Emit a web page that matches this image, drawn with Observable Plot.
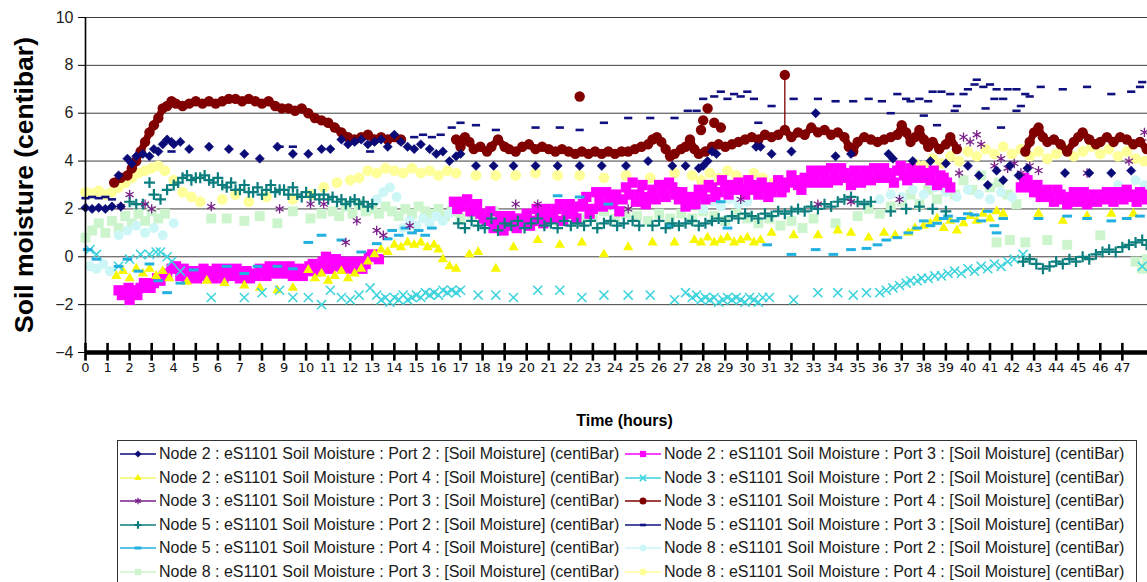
<!DOCTYPE html>
<html><head><meta charset="utf-8">
<script src="https://cdn.jsdelivr.net/npm/d3@7"></script>
<script src="https://cdn.jsdelivr.net/npm/@observablehq/plot@0.6"></script>
<style>
body{margin:0;background:#fff;width:1147px;height:582px;overflow:hidden;position:relative;font-family:"Liberation Sans",Arial,sans-serif;}
#chart{position:absolute;left:0;top:0;}
#legend{position:absolute;left:117px;top:440px;width:1020px;height:170px;border:1px solid #333;box-sizing:border-box;background:#fff;}
.item{position:absolute;height:20px;display:flex;align-items:center;font-size:16px;color:#1a1a1a;white-space:nowrap;}
.item svg{margin-right:2px;}
</style></head><body>
<div id="chart"></div><div id="legend"></div>
<script>
// ---------- axis ticks ----------
const xTicks = [0,1,2,3,4,5,6,7,8,9,10,11,12,13,14,15,16,17,18,19,20,21,22,23,24,25,26,27,28,29,30,31,32,33,34,35,36,37,38,39,40,41,42,43,44,45,46,47];
const yTicks = [-4,-2,0,2,4,6,8,10];

// ---------- series names ----------
const names = [
 "Node 2 : eS1101 Soil Moisture : Port 2 : [Soil Moisture] (centiBar)",
 "Node 2 : eS1101 Soil Moisture : Port 3 : [Soil Moisture] (centiBar)",
 "Node 2 : eS1101 Soil Moisture : Port 4 : [Soil Moisture] (centiBar)",
 "Node 3 : eS1101 Soil Moisture : Port 2 : [Soil Moisture] (centiBar)",
 "Node 3 : eS1101 Soil Moisture : Port 3 : [Soil Moisture] (centiBar)",
 "Node 3 : eS1101 Soil Moisture : Port 4 : [Soil Moisture] (centiBar)",
 "Node 5 : eS1101 Soil Moisture : Port 2 : [Soil Moisture] (centiBar)",
 "Node 5 : eS1101 Soil Moisture : Port 3 : [Soil Moisture] (centiBar)",
 "Node 5 : eS1101 Soil Moisture : Port 4 : [Soil Moisture] (centiBar)",
 "Node 8 : eS1101 Soil Moisture : Port 2 : [Soil Moisture] (centiBar)",
 "Node 8 : eS1101 Soil Moisture : Port 3 : [Soil Moisture] (centiBar)",
 "Node 8 : eS1101 Soil Moisture : Port 4 : [Soil Moisture] (centiBar)"
];

// ---------- data: [hour, centibar] ----------
const n2p2 = [[0.0,2.05],[0.3,2.0],[0.6,2.05],[0.9,2.0],[1.2,2.1],[1.5,3.4],[1.6,2.1],[1.9,4.1],[2.1,3.9],[2.3,4.2],[2.6,4.3],[2.9,4.2],[3.1,4.5],[3.3,4.4],[3.5,4.7],[3.7,4.9],[3.9,4.8],[4.0,4.7],[4.3,4.8],[4.7,4.5],[5.6,4.6],[6.5,4.5],[7.2,4.3],[7.9,4.1],[8.7,4.6],[9.4,4.3],[10.1,4.3],[10.7,4.5],[11.1,4.5],[11.6,4.9],[11.9,4.7],[12.2,4.8],[12.5,4.9],[12.8,4.7],[13.1,4.8],[13.4,4.9],[13.7,4.6],[14.0,5.1],[14.3,4.8],[14.6,4.6],[14.9,4.5],[15.2,4.7],[15.6,4.5],[15.9,4.3],[16.2,4.4],[16.5,4.0],[16.8,4.2],[17.0,4.3],[17.7,3.8],[18.5,3.8],[19.4,3.8],[20.4,3.8],[21.4,3.8],[22.4,3.8],[23.4,3.8],[24.5,3.8],[25.5,4.0],[26.6,3.8],[27.2,3.8],[27.8,3.7],[28.0,3.8],[28.2,4.0],[28.4,4.4],[28.6,4.3],[30.4,4.6],[30.6,4.6],[31.1,4.3],[32.0,4.4],[33.1,6.0],[34.0,4.2],[34.7,4.3],[36.4,4.3],[36.6,4.1],[37.5,4.0],[38.3,4.0],[39.0,3.9],[40.0,3.8],[40.5,3.4],[40.9,3.0],[41.3,3.6],[41.6,3.2],[41.9,3.8],[42.3,3.4],[42.7,3.7],[44.4,3.5],[45.5,3.5],[46.5,3.5],[47.4,3.6]];

const n2p3 = [[1.5,-1.4],[1.8,-1.5],[2.0,-1.8],[2.2,-1.4],[2.5,-1.3],[2.8,-1.2],[3.1,-1.1],[3.4,-1.0],[3.7,-0.7],[3.9,-0.5],[4.1,-0.4],[4.3,-0.8],[4.6,-0.9],[4.9,-0.6],[5.2,-0.8],[5.5,-0.6],[5.8,-0.9],[6.1,-0.7],[6.4,-0.5],[6.7,-0.8],[7.0,-0.9],[7.3,-0.6],[7.6,-0.7],[7.9,-0.5],[8.2,-0.8],[8.5,-0.6],[8.8,-0.4],[9.1,-0.7],[9.4,-0.8],[9.7,-0.5],[10.0,-0.6],[10.3,-0.3],[10.6,-0.5],[10.9,0.0],[11.2,-0.4],[11.5,-0.2],[11.8,-0.4],[12.1,-0.5],[12.4,-0.2],[12.7,-0.3],[13.0,0.1],[13.3,-0.1],
 [1.65,-1.6],[1.95,-1.3],[2.35,-1.6],[2.65,-1.1],[2.95,-1.3],[3.25,-0.9],[3.55,-0.8],[4.45,-0.5],[4.75,-0.6],[5.05,-0.9],[5.35,-0.5],[5.65,-0.7],[5.95,-0.5],[6.25,-0.9],[6.55,-0.7],[6.85,-0.5],[7.15,-0.7],[7.45,-0.9],[7.75,-0.8],[8.05,-0.6],[8.35,-0.4],[8.65,-0.7],[8.95,-0.6],[9.25,-0.4],[9.55,-0.6],[9.85,-0.8],[10.15,-0.4],[10.45,-0.6],[10.75,-0.2],[11.05,-0.5],[11.35,-0.1],[11.65,-0.5],[11.95,-0.2],[12.25,-0.3],[12.55,-0.5],[12.85,0.0],
 [16.7,2.3],[17.0,2.1],[17.3,2.4],[17.6,2.0],[17.9,1.8],[18.2,1.5],[18.5,1.2],[18.8,1.7],[19.1,1.3],[19.4,1.6],[19.7,1.4],[20.0,1.8],[20.3,1.5],[20.6,1.7],[20.9,2.0],[21.2,1.6],[21.5,2.2],[21.8,1.8],[22.1,1.9],[22.4,2.1],[22.7,2.5],[23.0,2.0],[23.3,2.4],[23.6,2.7],[23.9,2.2],[24.2,1.9],[24.5,2.9],[24.8,3.1],[25.1,2.6],[25.4,2.2],[25.7,2.8],[26.0,3.0],[26.3,2.5],[26.6,2.9],[26.9,2.4],[27.2,2.1],[27.5,2.5],[27.8,2.8],[28.1,2.4],[28.4,2.9],[28.7,2.7],[29.0,3.0],[29.3,2.8],[29.6,3.1],[29.9,2.6],[30.2,3.0],[30.5,2.6],[30.8,2.9],[31.1,2.7],[31.4,3.2],[31.7,2.9],[32.0,3.4],[32.3,3.0],[32.6,3.3],[32.9,3.6],[33.2,3.1],[33.5,3.4],[33.8,3.7],[34.1,3.2],[34.4,3.5],[34.7,3.0],[35.0,3.3],[35.3,3.6],[35.6,3.2],[35.9,3.5],[36.2,3.7],[36.5,3.3],[36.8,3.6],[37.1,3.4],[37.4,3.7],[37.7,3.3],[38.0,3.5],[38.3,3.2],[38.6,3.0],[38.9,3.3],[39.2,2.9],
 [16.85,2.0],[17.15,2.3],[17.45,1.9],[17.75,2.2],[18.05,1.6],[18.35,1.9],[18.65,1.4],[18.95,1.1],[19.25,1.7],[19.55,1.2],[19.85,1.6],[20.15,1.3],[20.45,2.0],[20.75,1.4],[21.05,1.8],[21.35,2.0],[21.65,1.5],[21.95,2.2],[22.25,1.6],[22.55,2.2],[22.85,1.8],[23.15,2.7],[23.45,2.1],[23.75,2.5],[24.05,2.6],[24.35,2.4],[24.65,2.6],[24.95,2.3],[25.25,3.0],[25.55,2.5],[25.85,2.4],[26.15,2.8],[26.45,3.1],[26.75,2.6],[27.05,2.7],[27.35,2.3],[27.65,2.2],[27.95,2.6],[28.25,3.0],[28.55,2.5],[28.85,3.2],[29.15,2.6],[29.45,3.0],[29.75,2.8],[30.05,3.2],[30.35,2.8],[30.65,3.1],[30.95,2.5],[31.25,2.9],[31.55,2.7],[31.85,3.1],[32.15,3.2],[32.45,2.8],[32.75,3.1],[33.05,3.4],[33.35,3.6],[33.65,3.1],[33.95,3.4],[34.25,3.7],[34.55,3.3],[34.85,3.6],[35.15,3.1],[35.45,3.4],[35.75,3.7],[36.05,3.3],[36.35,3.5],[36.65,3.1],[36.95,3.8],[37.25,3.2],[37.55,3.5],[37.85,3.6],[38.15,3.3],[38.45,3.6],[38.75,3.4],[39.05,3.1],
 [42.4,2.9],[42.7,3.2],[43.0,2.7],[43.3,2.5],[43.6,2.8],[43.9,2.3],[44.2,2.6],[44.5,2.2],[44.8,2.7],[45.1,2.5],[45.4,2.2],[45.7,2.6],[46.0,2.4],[46.3,2.7],[46.6,2.3],[46.9,2.6],[47.2,2.8],[47.5,2.5],[47.8,2.7],[48.1,2.4],
 [42.55,3.3],[42.85,2.9],[43.15,3.0],[43.45,2.6],[43.75,2.5],[44.05,2.8],[44.35,2.4],[44.65,2.5],[44.95,2.3],[45.25,2.7],[45.55,2.4],[45.85,2.3],[46.15,2.6],[46.45,2.4],[46.75,2.7],[47.05,2.4],[47.35,2.6],[47.65,2.3],[47.95,2.6]];

const n2p4 = [[1.4,-0.8],[1.7,-0.6],[2.0,-0.9],[2.3,-0.5],[2.6,-0.7],[2.9,-0.5],[3.2,-0.8],[3.5,-0.6],[3.8,-0.9],[4.6,-1.05],[5.5,-1.0],[6.3,-1.1],[7.2,-1.2],[7.9,-1.3],[8.7,-1.4],[9.4,-1.3],[10.1,-0.55],[10.4,-0.9],[10.7,-0.7],[11.0,-1.0],[11.3,-0.8],[11.6,-0.6],[11.9,-0.9],[12.2,-0.7],[12.5,-0.5],[12.8,-0.2],[13.1,0.1],[13.4,0.3],[13.7,0.2],[14.0,0.5],[14.3,0.4],[14.6,0.6],[14.9,0.5],[15.2,0.6],[15.5,0.4],[15.8,0.5],[16.0,0.3],[16.2,-0.1],[16.5,-0.4],[16.8,-0.5],[17.4,0.1],[17.8,0.2],[18.6,-0.5],[19.4,0.4],[20.5,0.7],[21.5,0.5],[22.5,0.6],[23.5,0.1],[24.6,0.4],[25.7,0.6],[26.7,0.6],[27.6,0.7],[27.9,0.6],[28.2,0.8],[28.5,0.6],[28.8,0.7],[29.1,0.8],[29.4,0.6],[29.7,0.7],[30.0,0.8],[30.3,0.6],[30.6,0.7],[31.1,1.0],[32.1,0.9],[33.2,0.9],[34.1,1.1],[34.7,1.0],[35.5,0.8],[36.2,1.0],[36.7,0.9],[37.3,1.0],[37.6,1.2],[38.0,1.3],[38.3,1.4],[38.6,1.6],[38.9,1.2],[39.2,1.5],[39.5,1.1],[39.8,1.4],[40.1,1.7],[40.4,1.5],[40.7,1.8],[41.0,1.6],[41.3,1.9],[41.6,1.8],[43.2,1.8],[44.3,1.5],[45.4,1.7],[46.5,1.8],[47.5,1.8]];

const n3p2 = [[0.2,0.3],[0.5,0.1],[1.5,-0.4],[2.0,-0.1],[2.5,0.1],[2.9,0.1],[3.2,0.2],[3.4,0.2],[3.7,0.0],[3.9,-0.2],[4.3,-0.6],[5.7,-1.7],[7.2,-1.7],[8.0,-1.5],[8.8,-1.4],[9.4,-1.7],[10.1,-1.7],[10.7,-2.0],[11.1,-1.4],[11.6,-1.7],[12.0,-1.8],[12.4,-1.6],[12.9,-1.3],[13.2,-1.6],[13.4,-1.8],[13.6,-1.7],[13.8,-1.9],[14.0,-1.7],[14.2,-1.8],[14.4,-1.6],[14.6,-1.8],[14.8,-1.7],[15.0,-1.6],[15.2,-1.7],[15.4,-1.5],[15.6,-1.6],[15.8,-1.5],[16.0,-1.6],[16.2,-1.4],[16.4,-1.5],[16.6,-1.4],[16.8,-1.5],[17.0,-1.4],[17.8,-1.6],[18.6,-1.6],[19.4,-1.7],[20.5,-1.4],[21.5,-1.4],[22.5,-1.7],[23.5,-1.6],[24.6,-1.6],[25.6,-1.6],[26.7,-1.8],[27.2,-1.5],[27.5,-1.7],[27.7,-1.6],[27.9,-1.8],[28.1,-1.7],[28.3,-1.8],[28.5,-1.7],[28.7,-1.9],[28.9,-1.8],[29.1,-1.7],[29.3,-1.8],[29.5,-1.7],[29.7,-1.8],[29.9,-1.9],[30.1,-1.7],[30.3,-1.8],[30.5,-1.9],[30.7,-1.7],[31.0,-1.7],[32.1,-1.8],[33.2,-1.5],[34.1,-1.5],[34.8,-1.6],[35.4,-1.5],[36.0,-1.5],[36.3,-1.4],[36.6,-1.3],[36.9,-1.2],[37.2,-1.1],[37.4,-1.0],[37.7,-1.0],[37.9,-0.9],[38.2,-0.9],[38.5,-0.8],[38.8,-0.8],[39.1,-0.7],[39.4,-0.6],[39.7,-0.7],[40.0,-0.5],[40.3,-0.6],[40.6,-0.4],[40.9,-0.5],[41.2,-0.3],[41.5,-0.4],[41.8,-0.2],[42.1,-0.1],[42.5,0.1],[47.9,-0.4]];

const n3p3 = [[1.6,2.1],[2.0,2.6],[2.7,2.2],[3.0,2.0],[5.7,2.1],[8.8,2.0],[10.2,2.2],[10.8,2.2],[11.8,0.6],[12.3,1.5],[13.2,1.1],[13.5,0.9],[14.7,1.3],[19.5,2.2],[20.5,2.2],[24.6,2.0],[29.7,2.4],[33.2,2.2],[34.7,2.3],[36.9,2.4],[39.5,4.6],[39.8,5.0],[40.1,4.8],[40.4,5.1],[40.6,4.7],[39.6,3.5],[41.2,3.8],[41.5,4.1],[41.8,3.7],[42.1,3.9],[42.4,3.5],[42.8,3.8],[43.2,3.6],[45.4,3.5],[47.3,4.0],[47.9,4.8],[48.0,5.2]];

const n3p4 = [[1.3,3.1],[1.6,3.3],[1.9,3.4],[2.1,3.7],[2.3,4.0],[2.5,4.4],[2.7,4.8],[2.9,5.2],[3.1,5.5],[3.3,5.8],[3.5,6.2],[3.7,6.3],[3.9,6.5],[4.1,6.4],[4.4,6.3],[4.7,6.4],[5.0,6.5],[5.3,6.4],[5.6,6.5],[5.9,6.4],[6.2,6.5],[6.5,6.6],[6.8,6.6],[7.1,6.5],[7.4,6.6],[7.7,6.5],[8.0,6.4],[8.3,6.5],[8.6,6.3],[8.9,6.2],[9.2,6.2],[9.5,6.1],[9.8,6.2],[10.1,6.0],[10.4,5.8],[10.7,5.7],[11.0,5.6],[11.3,5.4],[11.6,5.2],[11.9,5.0],[12.2,4.9],[12.5,5.0],[12.8,5.1],[13.1,4.9],[13.4,5.0],[13.7,4.9],[14.0,5.0],[14.3,4.9],
 [16.8,4.9],[17.0,4.6],[17.2,5.0],[17.4,4.8],[17.6,4.5],[17.9,4.6],[18.2,4.4],[18.4,4.6],[18.7,4.9],[19.0,4.6],[19.2,4.5],[19.5,4.4],[19.8,4.6],[20.1,4.7],[20.4,4.5],[20.7,4.6],[21.0,4.5],[21.3,4.4],[21.6,4.5],[21.9,4.4],[22.2,4.3],[22.5,4.4],[22.8,4.3],[23.1,4.4],[23.4,4.3],[23.7,4.4],[24.0,4.3],[24.3,4.4],[24.6,4.4],[24.9,4.5],[25.2,4.6],[25.5,4.7],[25.7,4.9],[25.9,5.0],[26.1,4.8],[26.3,4.5],[26.5,4.2],[26.7,4.3],[27.0,4.5],[27.2,4.6],[27.4,4.9],[27.6,4.5],[27.8,4.3],[28.1,4.4],[28.4,4.6],[28.7,4.7],[29.0,4.6],[29.3,4.7],[29.6,4.8],[29.9,4.9],[30.2,5.0],[30.5,4.9],[30.8,5.1],[31.1,5.0],[31.4,5.1],[31.7,5.3],[32.0,5.0],[32.3,5.2],[32.6,5.1],[32.9,5.4],[33.2,5.2],[33.5,5.3],[33.8,5.1],[34.1,5.2],[34.4,5.0],[34.6,4.6],[34.8,4.4],[35.0,4.8],[35.3,5.0],[35.6,4.9],[35.9,4.8],[36.2,4.9],[36.5,5.0],[36.8,5.1],[37.0,5.5],[37.2,5.2],[37.4,4.8],[37.6,5.0],[37.8,5.3],[38.0,4.9],[38.2,4.6],[38.4,4.8],[38.7,4.5],[39.0,4.7],[39.2,5.0],[39.5,4.5],
 [42.6,4.4],[42.8,4.8],[43.0,5.2],[43.2,5.4],[43.4,5.0],[43.6,4.8],[43.9,4.9],[44.2,4.7],[44.5,4.4],[44.8,4.8],[45.0,5.0],[45.2,5.2],[45.5,4.9],[45.8,4.7],[46.0,4.8],[46.3,5.0],[46.6,4.8],[46.9,5.0],[47.2,4.9],[47.5,4.7],[47.8,4.8],[48.1,4.5]];
const n3p4Outliers = [[22.4,6.7],[27.9,5.3],[28.0,5.7],[28.2,6.2],[28.5,5.6],[28.8,5.4],[31.7,7.6]];
const n3p4Spike = [[31.7,5.3],[31.7,7.6]];

const n5p2 = [[2.0,2.3],[2.3,2.2],[2.6,2.2],[2.9,3.1],[3.1,2.6],[3.4,2.4],[3.7,2.8],[4.0,3.0],[4.2,3.1],[4.4,3.3],[4.6,3.4],[4.8,3.2],[5.0,3.3],[5.2,3.3],[5.4,3.4],[5.6,3.2],[5.8,3.1],[6.0,3.3],[6.2,3.0],[6.4,2.9],[6.6,3.1],[6.8,2.8],[7.0,2.8],[7.2,3.0],[7.4,2.7],[7.6,2.7],[7.8,2.9],[8.0,2.6],[8.2,2.8],[8.4,3.0],[8.6,2.7],[8.8,2.8],[9.0,2.8],[9.2,2.6],[9.4,2.9],[9.6,2.6],[9.8,2.5],[10.0,2.7],[10.2,2.5],[10.4,2.6],[10.6,2.4],[10.8,2.6],[11.0,2.4],[11.2,2.5],[11.4,2.3],[11.6,2.4],[11.8,2.2],[12.0,2.3],[12.2,2.4],[12.4,2.2],[12.6,2.3],[12.8,2.1],[13.0,2.2],
 [16.9,1.4],[17.2,1.2],[17.5,1.5],[17.8,1.3],[18.1,1.2],[18.4,1.6],[18.7,1.1],[19.0,1.4],[19.3,1.3],[19.6,1.5],[19.9,1.2],[20.2,1.4],[20.5,1.6],[20.8,1.3],[21.1,1.4],[21.4,1.2],[21.7,1.5],[22.0,1.3],[22.3,1.4],[22.6,1.3],[22.9,1.5],[23.2,1.2],[23.5,1.4],[23.8,1.5],[24.1,1.3],[24.4,1.4],[24.8,1.5],[25.1,1.3],[25.7,1.3],[26.0,1.5],[26.3,1.2],[26.6,1.4],[26.9,1.3],[27.2,1.4],[27.5,1.5],[27.8,1.3],[28.1,1.4],[28.4,1.5],[28.7,1.6],[29.0,1.5],[29.3,1.7],[29.6,1.6],[29.9,1.8],[30.2,1.7],[30.5,1.6],[30.8,1.8],[31.1,1.7],[31.4,1.9],[31.7,1.8],[32.0,1.9],[32.3,2.0],[32.6,1.9],[32.9,2.1],[33.2,2.0],[33.5,2.2],[33.8,2.1],[34.1,2.3],[34.4,2.4],[34.7,2.5],[35.0,2.3],[35.3,2.2],[35.6,2.3],[36.5,1.9],[37.2,2.0],[37.8,2.1],[38.4,2.0],[39.0,1.9],
 [42.5,-0.2],[42.8,-0.1],[43.1,-0.3],[43.4,-0.5],[43.7,-0.4],[44.0,-0.2],[44.3,-0.3],[44.6,-0.1],[44.9,-0.2],[45.2,0.0],[45.5,-0.1],[45.8,0.1],[46.1,0.2],[46.4,0.3],[46.7,0.2],[47.0,0.4],[47.3,0.5],[47.6,0.6],[47.9,0.7],[48.1,0.5]];

const n5p3 = [[0.0,2.45],[0.3,2.5],[0.6,2.45],[0.9,2.5],[1.2,2.4],[3.9,4.4],[8.8,4.6],[9.4,4.6],[12.9,4.4],[14.9,5.0],[15.3,5.1],[15.7,5.0],[16.1,5.1],[16.6,5.4],[17.0,5.6],[17.7,5.5],[18.6,5.3],[20.4,5.4],[21.5,5.4],[22.4,5.3],[23.5,5.6],[24.6,5.8],[25.6,5.8],[26.7,5.8],[27.3,6.1],[27.7,6.1],[28.0,6.6],[28.5,6.7],[28.8,6.9],[29.1,6.6],[29.4,6.8],[29.7,6.7],[30.0,6.9],[30.3,6.6],[30.5,5.6],[31.1,6.3],[32.1,6.6],[33.2,6.6],[34.0,6.5],[34.8,6.5],[35.5,6.6],[36.1,6.5],[36.5,6.0],[36.8,6.8],[37.2,6.6],[37.4,6.5],[37.8,6.6],[38.0,5.9],[38.2,6.5],[38.4,6.9],[38.6,5.5],[38.8,6.9],[39.2,6.8],[39.4,6.1],[39.5,6.3],[39.8,6.8],[40.0,7.0],[40.3,7.2],[40.4,7.4],[40.7,7.1],[40.8,6.2],[41.0,7.2],[41.2,6.6],[41.3,7.0],[41.5,5.4],[41.6,6.6],[41.8,7.0],[42.2,7.0],[42.2,6.1],[42.4,6.3],[42.6,6.8],[42.8,6.7],[43.3,7.1],[44.3,7.0],[45.4,7.1],[46.5,6.8],[47.4,6.9],[47.8,7.1],[47.9,7.3]];

const n5p4 = [[0.1,0.3],[0.5,-0.1],[1.5,-0.4],[1.9,-0.1],[2.4,-0.6],[2.9,-0.3],[3.3,-1.0],[3.7,-1.5],[4.3,-1.1],[4.9,-0.55],[6.4,-0.4],[7.2,-0.7],[7.8,-0.4],[8.7,-0.4],[9.4,-0.5],[10.1,0.6],[10.7,0.9],[11.6,0.7],[12.5,0.2],[13.2,0.55],[13.7,0.75],[13.9,1.1],[14.2,0.9],[14.5,1.2],[14.8,1.0],[15.1,1.1],[15.4,0.9],[15.7,1.2],[21.4,2.55],[22.4,2.5],[23.7,2.2],[26.5,1.3],[28.8,2.3],[29.1,1.2],[30.9,0.5],[32.0,0.1],[33.1,0.3],[33.9,0.1],[34.7,0.3],[35.4,0.35],[35.9,0.5],[36.3,0.7],[36.8,0.8],[37.3,1.0],[37.7,1.2],[38.0,1.5],[38.3,1.3],[38.6,1.4],[38.9,1.6],[39.1,1.7],[39.4,1.5],[39.7,1.6],[40.0,1.8],[40.3,1.75],[40.6,1.5],[40.9,1.9],[41.2,1.3],[41.3,1.0],[41.6,1.6],[43.2,1.6],[44.5,1.7],[45.4,1.6],[46.5,1.5],[47.2,1.6],[47.8,1.7]];

const n8p2 = [[0.2,-0.4],[0.5,-0.5],[0.8,-0.3],[1.1,-0.6],[1.5,0.9],[1.9,1.1],[2.3,1.3],[2.7,1.0],[3.1,1.2],[3.5,0.9],[4.0,1.4],[13.2,2.4],[13.5,2.7],[13.8,2.9],[14.1,2.5],[14.4,1.2],[14.7,1.5],[15.0,1.3],[15.3,1.6],[15.6,1.4],[15.9,1.7],[16.2,1.5],[16.5,1.8],[22.0,2.0],[24.0,2.1],[27.6,2.2],[28.0,2.0],[28.4,2.3],[28.8,2.1],[29.2,2.4],[29.6,2.2],[30.0,2.3],[36.0,2.4],[36.5,2.6],[37.0,2.5],[37.5,2.8],[38.0,2.6],[38.5,2.9],[39.0,2.7],[39.5,2.5],[40.0,2.8],[40.5,2.6],[41.0,2.4],[41.5,2.7],[42.0,2.5],[46.8,3.0],[47.2,2.8],[47.6,3.2],[48.0,3.0]];

const n8p3 = [[0.0,0.8],[0.3,1.1],[0.6,1.4],[0.9,1.0],[1.2,1.5],[1.5,1.2],[1.8,1.7],[2.1,1.4],[2.4,1.8],[2.7,1.5],[3.0,1.9],[3.3,1.6],[3.6,1.8],[5.7,1.6],[6.4,1.6],[7.2,1.5],[7.9,1.7],[8.7,1.4],[9.4,1.9],[10.2,1.6],[10.7,1.8],[11.2,1.9],[11.5,1.7],[11.8,2.1],[12.1,1.8],[12.4,2.2],[12.7,1.9],[13.0,2.0],[13.3,1.8],[13.6,2.1],[13.9,1.9],[14.2,1.7],[14.5,2.0],[14.8,1.8],[15.1,2.1],[15.4,1.9],[15.7,1.8],[16.0,2.0],[16.3,1.7],[16.6,1.9],[17.0,1.6],[17.5,1.8],[18.0,1.6],[18.5,1.9],[19.0,1.7],[19.5,1.5],[20.0,1.8],[20.5,1.6],[21.0,1.7],[21.5,1.5],[22.0,1.8],[22.5,1.6],[23.0,1.7],[23.5,1.9],[24.0,1.6],[24.5,1.8],[25.0,1.7],[25.5,1.5],[26.0,1.8],[26.5,1.6],[27.0,1.8],[27.5,1.6],[28.0,1.9],[28.5,1.7],[29.0,1.5],[29.5,1.8],[30.0,1.6],[30.5,1.4],[31.0,1.6],[31.5,1.3],[32.0,1.5],[32.5,1.2],[33.0,1.6],[34.0,1.4],[35.0,1.7],[35.5,2.0],[36.0,1.8],[36.5,2.1],[37.0,2.3],[37.4,2.6],[37.8,2.2],[38.2,2.8],[38.6,2.4],[39.0,3.0],[39.4,2.6],[39.8,3.2],[40.2,2.8],[40.6,3.4],[41.0,2.9],[41.4,3.1],[41.8,2.6],[42.2,2.2],[41.3,0.6],[41.9,0.7],[42.6,0.6],[43.6,0.7],[44.5,0.5],[46.0,0.9],[47.6,-0.2],[47.9,-0.5],[48.1,-0.1]];

const n8p4 = [[0.0,2.7],[0.3,2.65],[0.6,2.75],[0.9,2.6],[1.2,2.7],[1.5,2.9],[1.8,3.1],[2.1,3.3],[2.4,3.5],[2.7,3.6],[3.0,3.7],[3.3,3.8],[3.6,3.6],[4.0,3.2],[4.4,2.7],[4.8,2.5],[5.2,2.3],[6.2,2.4],[6.8,2.6],[7.4,2.3],[8.2,2.5],[9.4,2.4],[10.2,2.6],[10.8,2.9],[11.4,3.1],[12.0,3.2],[12.4,3.3],[12.8,3.6],[13.2,3.5],[13.6,3.7],[14.0,3.6],[14.4,3.5],[14.8,3.7],[15.2,3.5],[15.6,3.6],[16.0,3.4],[16.4,3.6],[16.8,3.5],[17.7,3.4],[18.6,3.4],[19.5,3.4],[20.4,3.5],[21.4,3.4],[22.4,3.4],[23.5,3.3],[24.5,3.4],[25.6,3.3],[26.7,3.5],[27.5,3.4],[27.9,3.2],[28.3,3.5],[28.7,3.3],[29.1,3.6],[29.5,3.4],[29.9,3.2],[30.3,3.5],[30.7,3.3],[31.2,3.1],[32.0,3.4],[33.0,3.2],[34.0,3.5],[35.0,3.3],[36.0,3.6],[37.0,3.7],[37.6,3.9],[38.0,3.8],[38.4,4.1],[38.8,3.9],[39.2,4.2],[39.6,4.0],[40.0,4.4],[40.4,4.2],[40.8,4.5],[41.2,4.3],[41.6,4.6],[42.0,4.3],[42.4,4.5],[42.8,4.2],[43.2,4.4],[43.6,4.1],[44.0,4.3],[44.4,4.5],[44.8,4.2],[45.2,4.4],[45.6,4.6],[46.0,4.3],[46.4,4.5],[46.8,4.2],[47.2,4.4],[47.6,4.1],[48.0,4.0]];

// ---------- styles ----------
const dash = {draw(ctx, size){ const w = Math.sqrt(size) * 0.7; ctx.moveTo(-w, 0); ctx.lineTo(w, 0); }};
const C = {navy:"#0b0b78", magenta:"#ff00ff", yellow:"#f7f700", cyan:"#3cd3dc", purple:"#7a1f8a", red:"#800000", teal:"#0b7d7d", navy2:"#101080", sky:"#22b0e0", pcyan:"#cdf7f7", pgreen:"#cdf5cd", pyellow:"#ffff9a"};

const style = [
 {data:n2p2, symbol:"diamond2", r:4.2, fill:C.navy, stroke:C.navy, sw:0.5, line:C.navy},
 {data:n2p3, symbol:"square", r:5.8, fill:C.magenta, stroke:"none", sw:0, line:C.magenta},
 {data:n2p4, symbol:"triangle", r:3.8, fill:C.yellow, stroke:"none", sw:0, line:"#f5f56a"},
 {data:n3p2, symbol:"times", r:4.2, fill:"none", stroke:C.cyan, sw:1.5, line:C.cyan},
 {data:n3p3, symbol:"asterisk", r:4.4, fill:"none", stroke:C.purple, sw:1.3, line:C.purple},
 {data:n3p4.concat(n3p4Outliers), symbol:"circle", r:5.2, fill:C.red, stroke:"none", sw:0, line:C.red},
 {data:n5p2, symbol:"plus", r:3.6, fill:"none", stroke:C.teal, sw:2.2, line:C.teal},
 {data:n5p3, symbol:dash, r:3.3, fill:"none", stroke:C.navy2, sw:2.6, line:C.navy2},
 {data:n5p4, symbol:dash, r:3.9, fill:"none", stroke:C.sky, sw:3, line:C.sky},
 {data:n8p2, symbol:"circle", r:5, fill:C.pcyan, stroke:"none", sw:0, line:C.pcyan},
 {data:n8p3, symbol:"square", r:5.6, fill:C.pgreen, stroke:"none", sw:0, line:C.pgreen},
 {data:n8p4, symbol:"circle", r:5.4, fill:C.pyellow, stroke:"none", sw:0, line:C.pyellow}
];
const drawOrder = [11,10,9,1,2,3,8,6,4,5,7,0];

// segment id for the dense dark-red run (breaks where readings pause)
let seg = 0;
const redSegments = n3p4.map((d, i) => { if (i > 0 && d[0] - n3p4[i-1][0] > 1) seg++; return {h: d[0], v: d[1], s: seg}; });

const dotMarks = drawOrder.map(i => {
  const s = style[i];
  const m = [Plot.dot(s.data, {x: d => d[0], y: d => d[1], symbol: s.symbol, r: s.r, fill: s.fill, stroke: s.stroke, strokeWidth: s.sw})];
  if (i === 5) m.unshift(Plot.line(redSegments, {x: "h", y: "v", z: "s", stroke: C.red, strokeWidth: 7, curve: "linear"}));
  return m;
}).flat();

const chart = Plot.plot({
  width: 1147, height: 430,
  marginLeft: 85, marginRight: 0, marginTop: 17, marginBottom: 78,
  x: {domain: [0, 48.14]},
  y: {domain: [-4, 10]},
  style: {background: "#fff", overflow: "visible"},
  marks: [
    Plot.ruleY(yTicks.filter(v => v > -4), {stroke: "#404040", strokeWidth: 1}),
    ...dotMarks,
    Plot.line(n3p4Spike, {x: d => d[0], y: d => d[1], stroke: C.red, strokeWidth: 1.3}),
    Plot.ruleX([0], {stroke: "#000", strokeWidth: 1.6}),
    Plot.ruleY([-4], {stroke: "#000", strokeWidth: 4.5}),
    Plot.ruleX(xTicks, {x: d => d, y1: -4.36, y2: -3.62, stroke: "#000", strokeWidth: 2.6}),
    Plot.axisX(xTicks, {tickSize: 0, tickPadding: 10, fontSize: 13, fontFamily: "DejaVu Sans", fill: "#111", label: null}),
    Plot.axisY(yTicks, {tickSize: 7, tickPadding: 5, fontSize: 16, fontFamily: "Liberation Sans", fill: "#222", label: null}),
    Plot.text(["Soil moisture (centibar)"], {frameAnchor: "left", textAnchor: "middle", lineAnchor: "middle", dx: -61, rotate: -90, fontSize: 26.5, fontWeight: "bold", fontFamily: "Liberation Sans", fill: "#000"}),
    Plot.text(["Time (hours)"], {frameAnchor: "bottom", textAnchor: "middle", dx: 8, dy: 73, fontSize: 16, fontWeight: "bold", fontFamily: "Liberation Sans", fill: "#000"})
  ]
});
document.getElementById("chart").appendChild(chart);

// ---------- legend ----------
const legend = document.getElementById("legend");
const rowY = [13, 37, 60, 84, 107, 131];
style.forEach((s, i) => {
  const row = Math.floor(i / 2), col = i % 2;
  const div = document.createElement("div");
  div.className = "item";
  div.style.left = (col === 0 ? 1 : 506) + "px";
  div.style.top = (rowY[row] - 10) + "px";
  const svg = d3.create("svg").attr("width", 38).attr("height", 16);
  svg.append("line").attr("x1", 1).attr("x2", 37).attr("y1", 8).attr("y2", 8).attr("stroke", s.line).attr("stroke-width", 1.4);
  const sym = typeof s.symbol === "string" ? {diamond2: d3.symbolDiamond2, square: d3.symbolSquare, triangle: d3.symbolTriangle, times: d3.symbolTimes, asterisk: d3.symbolAsterisk, circle: d3.symbolCircle, plus: d3.symbolPlus}[s.symbol] : s.symbol;
  const rr = Math.min(s.r, 5) * 0.7;
  svg.append("path").attr("transform", "translate(19,8)")
    .attr("d", d3.symbol(sym, rr * rr * Math.PI)())
    .attr("fill", s.fill).attr("stroke", s.stroke === "none" ? "none" : s.stroke)
    .attr("stroke-width", s.sw);
  div.appendChild(svg.node());
  const span = document.createElement("span");
  span.textContent = names[i];
  div.appendChild(span);
  legend.appendChild(div);
});
</script></body></html>
